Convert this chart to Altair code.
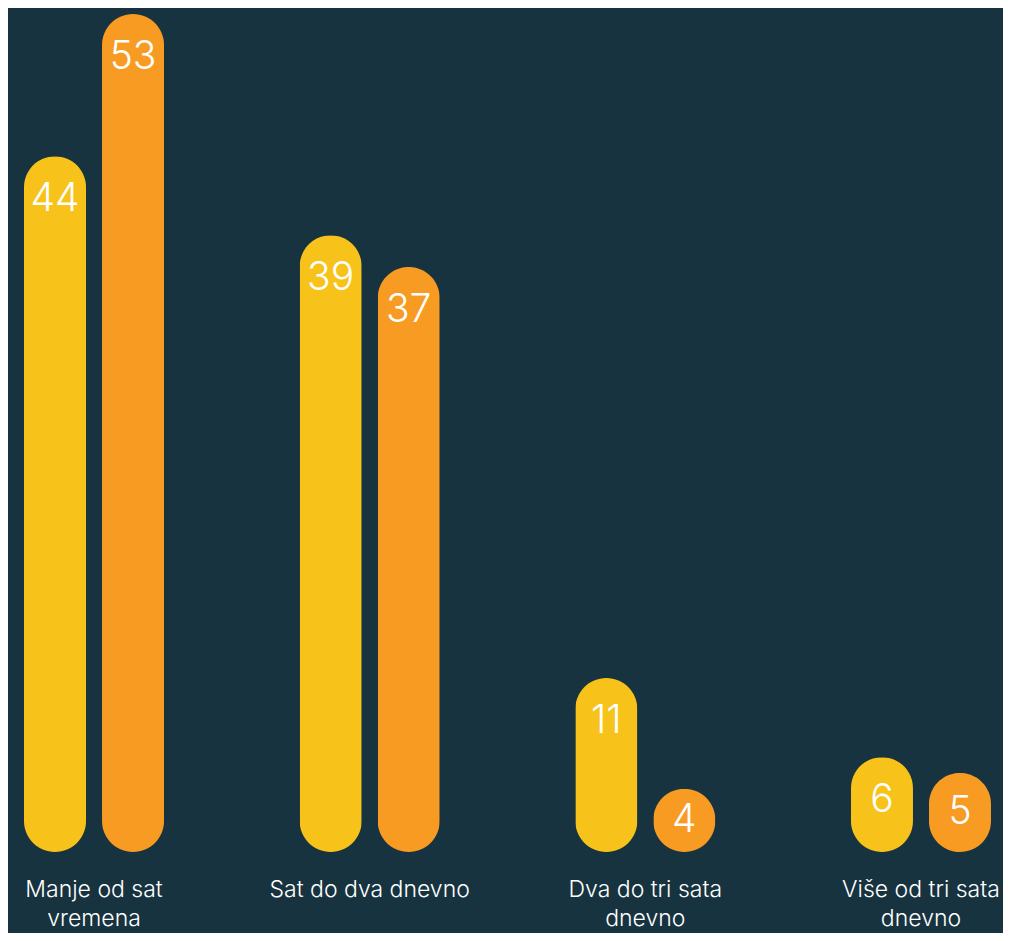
import altair as alt
import pandas as pd

categories = ["Manje od sat vremena", "Sat do dva dnevno", "Dva do tri sata dnevno", "Više od tri sata dnevno"]
label_lines = ["Manje od sat|vremena", "Sat do dva dnevno", "Dva do tri sata|dnevno", "Više od tri sata|dnevno"]
series = ["Serija 1", "Serija 2"]
values_s1 = [44, 39, 11, 6]
values_s2 = [53, 37, 4, 5]
colors = ["#F7C31B", "#F89B22"]

rows = []
for c, l, a, b in zip(categories, label_lines, values_s1, values_s2):
    rows.append({"category": c, "wrapped": l, "series": series[0], "value": a})
    rows.append({"category": c, "wrapped": l, "series": series[1], "value": b})
df = pd.DataFrame(rows)

label_map = {c: l for c, l in zip(categories, label_lines)}
label_expr = "split({" + ", ".join(f"'{c}': '{l}'" for c, l in label_map.items()) + "}[datum.label], '|')"

x_enc = alt.X(
    "category:N",
    sort=categories,
    scale=alt.Scale(paddingInner=0.492, paddingOuter=0),
    axis=alt.Axis(
        title=None,
        domain=False,
        ticks=False,
        labelAngle=0,
        labelColor="#FFFFFF",
        labelFont="Inter",
        labelFontWeight=300,
        labelFontSize=23,
        labelPadding=26,
        labelLineHeight=29,
        labelBaseline="top",
        labelOverlap=False,
        labelFlush=False,
        labelLimit=0,
        labelExpr=label_expr,
    ),
)
xoff = alt.XOffset("series:N", sort=series, scale=alt.Scale(paddingInner=0.205, paddingOuter=0))
y_scale = alt.Scale(domain=[0, 53], nice=False, zero=True)

base = alt.Chart(df)

bars = base.mark_bar(cornerRadius=31).encode(
    x=x_enc,
    xOffset=xoff,
    y=alt.Y("value:Q", scale=y_scale, axis=None),
    color=alt.Color("series:N", sort=series, scale=alt.Scale(domain=series, range=colors), legend=None),
)

texts = base.transform_calculate(
    lpos="max(datum.value - 2.7, datum.value / 2)"
).mark_text(
    color="#FFFFFF", font="Inter", fontWeight=300, fontSize=39, baseline="middle", align="center"
).encode(
    x=x_enc,
    xOffset=xoff,
    y=alt.Y("lpos:Q", scale=y_scale, axis=None),
    text=alt.Text("value:Q"),
)

chart = (
    alt.layer(bars, texts)
    .properties(
        width=967,
        height=838,
        autosize=alt.AutoSizeParams(type="none"),
        padding={"left": 16, "top": 6, "right": 12, "bottom": 81},
        background="#173340",
    )
    .configure_view(stroke=None)
)

chart.save("out.html", embed_options={"renderer": "svg", "actions": False})
